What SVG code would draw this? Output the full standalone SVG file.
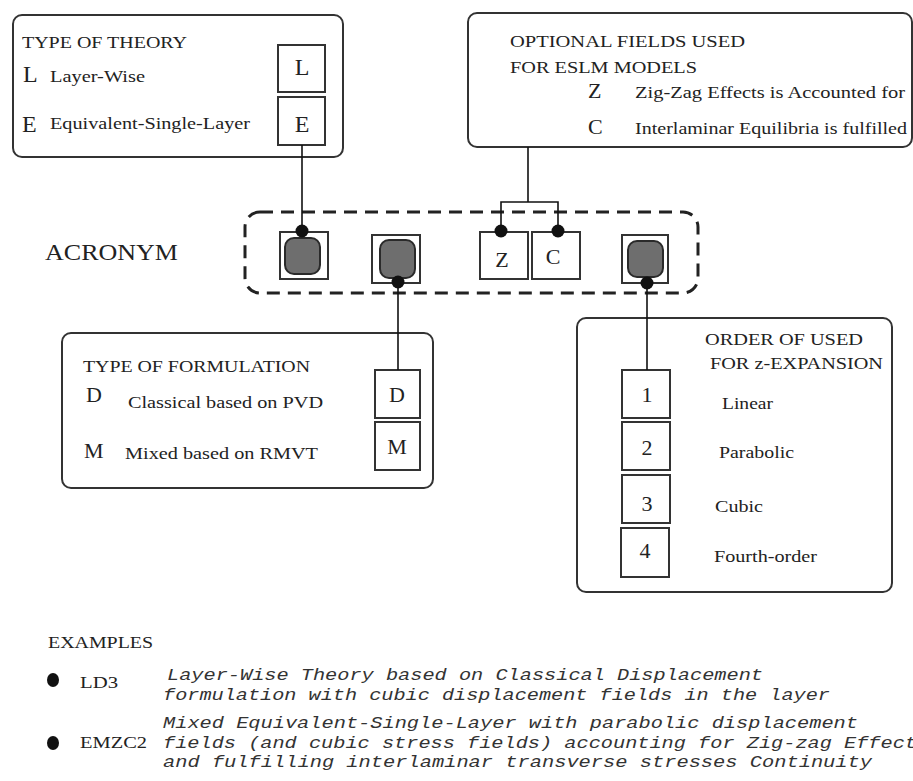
<svg xmlns="http://www.w3.org/2000/svg" width="913" height="781" viewBox="0 0 913 781">
<style>
.panel{fill:#fff;stroke:#333;stroke-width:2}
.box{fill:#fff;stroke:#333;stroke-width:2}
.gray{fill:#6e6e6e;stroke:#2a2a2a;stroke-width:2}
.line{fill:none;stroke:#111;stroke-width:1.6}
.dot{fill:#111}
.dash{fill:none;stroke:#222;stroke-width:3;stroke-dasharray:13 8}
.t{font-family:"Liberation Serif","Times New Roman",serif;fill:#222}
.m{font-family:"Liberation Mono","Courier New",monospace;font-style:italic;fill:#333;font-size:16px}
</style>
<rect width="913" height="781" fill="#fff"/>

<g id="theory">
<rect class="panel" x="13" y="15" width="330" height="142" rx="9"/>
<text class="t" x="22" y="48" font-size="17" textLength="165" lengthAdjust="spacingAndGlyphs">TYPE OF THEORY</text>
<text class="t" x="23" y="82" font-size="24">L</text>
<text class="t" x="50" y="82" font-size="17" textLength="95" lengthAdjust="spacingAndGlyphs">Layer-Wise</text>
<text class="t" x="22" y="132" font-size="24">E</text>
<text class="t" x="50" y="129" font-size="17" textLength="200" lengthAdjust="spacingAndGlyphs">Equivalent-Single-Layer</text>
<rect class="box" x="278" y="45" width="47" height="47"/>
<text class="t" x="302" y="75" font-size="24" text-anchor="middle">L</text>
<rect class="box" x="278" y="97" width="47" height="48"/>
<text class="t" x="302" y="132" font-size="24" text-anchor="middle">E</text>
</g>

<g id="optional">
<rect class="panel" x="468" y="13" width="444" height="134" rx="9"/>
<text class="t" x="510" y="47" font-size="17" textLength="235" lengthAdjust="spacingAndGlyphs">OPTIONAL FIELDS USED</text>
<text class="t" x="510" y="73" font-size="17" textLength="187" lengthAdjust="spacingAndGlyphs">FOR ESLM MODELS</text>
<text class="t" x="588" y="98" font-size="22">Z</text>
<text class="t" x="635" y="98" font-size="16" textLength="270" lengthAdjust="spacingAndGlyphs">Zig-Zag Effects is Accounted for</text>
<text class="t" x="588" y="134" font-size="22">C</text>
<text class="t" x="635" y="134" font-size="16" textLength="272" lengthAdjust="spacingAndGlyphs">Interlaminar Equilibria is fulfilled</text>
</g>

<g id="acronym">
<text class="t" x="45" y="260" font-size="24" textLength="133" lengthAdjust="spacingAndGlyphs">ACRONYM</text>
<rect class="dash" x="245" y="212" width="453" height="81" rx="15"/>
<g id="slot1">
<rect class="box" x="280" y="232" width="48" height="47"/>
<rect class="gray" x="285" y="238" width="35" height="36" rx="9"/>
</g>
<g id="slot2">
<rect class="box" x="372" y="235" width="48" height="48"/>
<rect class="gray" x="380" y="240" width="35" height="38" rx="9"/>
</g>
<g id="slotZ">
<rect class="box" x="480" y="232" width="48" height="47"/>
<text class="t" x="502" y="267" font-size="22" text-anchor="middle">Z</text>
</g>
<g id="slotC">
<rect class="box" x="532" y="232" width="48" height="47"/>
<text class="t" x="553" y="264" font-size="22" text-anchor="middle">C</text>
</g>
<g id="slot4">
<rect class="box" x="622" y="235" width="46" height="48"/>
<rect class="gray" x="628" y="241" width="35" height="36" rx="9"/>
</g>
</g>

<g id="formulation">
<rect class="panel" x="62" y="333" width="371" height="155" rx="9"/>
<text class="t" x="83" y="372" font-size="16" textLength="227" lengthAdjust="spacingAndGlyphs">TYPE OF FORMULATION</text>
<text class="t" x="86" y="402" font-size="22">D</text>
<text class="t" x="128" y="408" font-size="16" textLength="195" lengthAdjust="spacingAndGlyphs">Classical based on PVD</text>
<text class="t" x="84" y="458" font-size="22">M</text>
<text class="t" x="125" y="459" font-size="16" textLength="193" lengthAdjust="spacingAndGlyphs">Mixed based on RMVT</text>
<rect class="box" x="375" y="370" width="45" height="48"/>
<text class="t" x="397" y="402" font-size="22" text-anchor="middle">D</text>
<rect class="box" x="375" y="422" width="45" height="48"/>
<text class="t" x="397" y="454" font-size="22" text-anchor="middle">M</text>
</g>

<g id="order">
<rect class="panel" x="577" y="318" width="315" height="274" rx="9"/>
<text class="t" x="705" y="345" font-size="16" textLength="158" lengthAdjust="spacingAndGlyphs">ORDER OF USED</text>
<text class="t" x="710" y="369" font-size="16" textLength="173" lengthAdjust="spacingAndGlyphs">FOR z-EXPANSION</text>
<rect class="box" x="622" y="370" width="48" height="48"/>
<text class="t" x="647" y="402" font-size="22" text-anchor="middle">1</text>
<rect class="box" x="622" y="422" width="48" height="48"/>
<text class="t" x="647" y="455" font-size="22" text-anchor="middle">2</text>
<rect class="box" x="622" y="475" width="48" height="48"/>
<text class="t" x="647" y="511" font-size="22" text-anchor="middle">3</text>
<rect class="box" x="621" y="528" width="48" height="49"/>
<text class="t" x="645" y="558" font-size="22" text-anchor="middle">4</text>
<text class="t" x="722" y="409" font-size="16" textLength="51" lengthAdjust="spacingAndGlyphs">Linear</text>
<text class="t" x="719" y="458" font-size="16" textLength="75" lengthAdjust="spacingAndGlyphs">Parabolic</text>
<text class="t" x="715" y="512" font-size="16" textLength="48" lengthAdjust="spacingAndGlyphs">Cubic</text>
<text class="t" x="714" y="562" font-size="16" textLength="103" lengthAdjust="spacingAndGlyphs">Fourth-order</text>
</g>

<g id="connectors">
<path class="line" d="M302 145 V231"/>
<path class="line" d="M528 147 V202 M501 231 V202 H558 V231"/>
<path class="line" d="M398 282 V370"/>
<path class="line" d="M647 283 V370"/>
<circle class="dot" cx="302" cy="231" r="6.5"/>
<circle class="dot" cx="501" cy="231" r="6.5"/>
<circle class="dot" cx="558" cy="231" r="6.5"/>
<circle class="dot" cx="398" cy="282" r="6.5"/>
<circle class="dot" cx="647" cy="283" r="6.5"/>
</g>

<g id="examples">
<text class="t" x="48" y="648" font-size="17" textLength="105" lengthAdjust="spacingAndGlyphs">EXAMPLES</text>
<ellipse class="dot" cx="53" cy="680" rx="6" ry="7"/>
<text class="t" x="80" y="688" font-size="17" textLength="38" lengthAdjust="spacingAndGlyphs">LD3</text>
<text class="m" x="167" y="680" textLength="596" lengthAdjust="spacingAndGlyphs">Layer-Wise Theory based on Classical Displacement</text>
<text class="m" x="163" y="700" textLength="667" lengthAdjust="spacingAndGlyphs">formulation with cubic displacement fields in the layer</text>
<ellipse class="dot" cx="53" cy="743" rx="6" ry="7"/>
<text class="t" x="80" y="748" font-size="17" textLength="67" lengthAdjust="spacingAndGlyphs">EMZC2</text>
<text class="m" x="163" y="728" textLength="695" lengthAdjust="spacingAndGlyphs">Mixed Equivalent-Single-Layer with parabolic displacement</text>
<text class="m" x="163" y="748" textLength="754" lengthAdjust="spacingAndGlyphs">fields (and cubic stress fields) accounting for Zig-zag Effect</text>
<text class="m" x="163" y="767" textLength="709" lengthAdjust="spacingAndGlyphs">and fulfilling interlaminar transverse stresses Continuity</text>
</g>
</svg>
